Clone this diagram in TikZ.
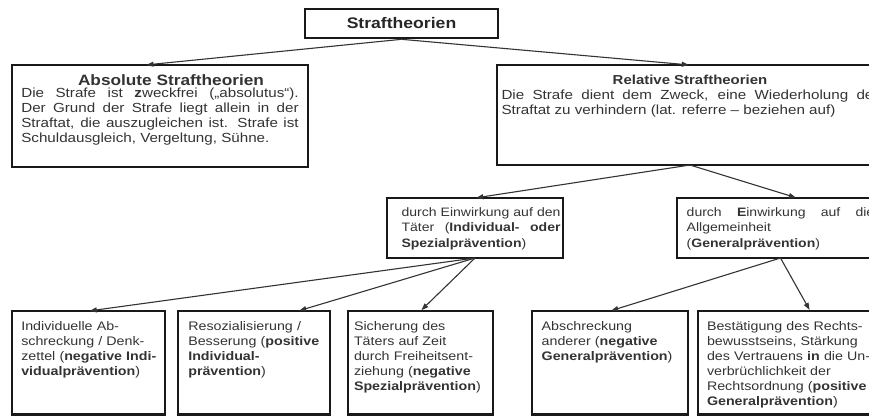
\documentclass[tikz,border=0pt]{standalone}
\usepackage{fontspec}
\setmainfont{Liberation Sans}[FakeStretch=1.15]
\usetikzlibrary{arrows.meta,calc}

\tikzset{
  box/.style={draw=black!90, line width=2.6pt, anchor=north west, outer sep=0pt, inner ysep=0pt, text=black!80},
  upper/.style={box, align=justify, font=\fontsize{13.2}{15}\selectfont},
  middle/.style={box, align=justify, text height=18pt, text depth=42pt, font=\fontsize{12.2}{15.5}\selectfont},
  lower/.style={box, align=left, inner xsep=2pt, text height=19pt, text depth=84.5pt, font=\fontsize{12.4}{15}\selectfont},
  pfeil/.style={draw=black!80, line width=1.1pt, -{Triangle[length=7pt,width=5pt]}, shorten >=1.3pt},
}

\begin{document}
\begin{tikzpicture}[x=1pt,y=-1pt]
        \useasboundingbox (0,0) rectangle (869,416);
        \clip (0,0) rectangle (869,416);

        \node[draw=black!90, line width=2.6pt, minimum width=193pt, minimum height=29pt, inner sep=0pt, text=black!85, font=\fontsize{15.3}{16}\selectfont\bfseries] (root) at (401.5,23.5) {Straftheorien};

        \node[upper, text width=277.4pt, inner xsep=9.3pt, text height=20.7pt, text depth=81.3pt] (absolut) at (12,65)
          {{\centering\bfseries\fontsize{15}{15}\selectfont\hspace*{22pt}Absolute Straftheorien\par}\vspace{-3pt}
           Die Strafe ist \textbf{z}weckfrei („absolutus“).\linebreak
           Der Grund der Strafe liegt allein in der\linebreak
           Straftat, die auszugleichen ist. Strafe ist\linebreak
           Schuldausgleich, Vergeltung, Sühne.};
        \node[upper, text width=377pt, inner xsep=4.5pt, text height=19pt, text depth=81pt] (relativ) at (497,65)
          {{\centering\bfseries\fontsize{13}{15}\selectfont Relative Straftheorien\par}
           Die Strafe dient dem Zweck, eine Wiederholung der\linebreak
           Straftat zu verhindern (lat. referre – beziehen auf)};

        \node[middle, text width=171pt, inner xsep=2.5pt] (spezial) at (387,198)
          {\leftskip=12pt durch Einwirkung auf den\linebreak
           Täter (\textbf{Individual- oder}\linebreak
           \textbf{Spezialprävention})\par};
        \node[middle, text width=187.6pt, inner xsep=9.7pt] (general) at (677,198)
          {durch \textbf{E}inwirkung auf die\linebreak
           Allgemeinheit\\
           (\textbf{Generalprävention})};

        \node[lower, text width=149pt] (indiv) at (12,311)
          {\leftskip=7.3pt Individuelle Ab-\\schreckung / Denk-\\zettel (\textbf{negative Indi-}\\\textbf{vidualprävention})\par};
        \node[lower, text width=148pt] (resoz) at (178,311)
          {\leftskip=8.3pt Resozialisierung /\\Besserung (\textbf{positive}\\\textbf{Individual-}\\\textbf{prävention})\par};
        \node[lower, text width=141pt] (sicher) at (348,311)
          {\leftskip=4pt Sicherung des\\Täters auf Zeit\\durch Freiheitsent-\\ziehung (\textbf{negative}\\\textbf{Spezialprävention})\par};
        \node[lower, text width=152pt] (abschr) at (532,311)
          {\leftskip=7.7pt Abschreckung\\anderer (\textbf{negative}\\\textbf{Generalprävention})\par};
        \node[lower, text width=183pt] (bestaet) at (698,311)
          {\leftskip=7pt Bestätigung des Rechts-\\bewusstseins, Stärkung\\des Vertrauens \textbf{in} die Un-\\verbrüchlichkeit der\\Rechtsordnung (\textbf{positive}\\\textbf{Generalprävention})\par};

        \draw[pfeil] (root.south) -- ($(absolut.north west)!0.45!(absolut.north east)$);
        \draw[pfeil] (root.south) -- (relativ.north);
        \draw[pfeil] (relativ.south) -- (spezial.north);
        \draw[pfeil] (relativ.south) -- ($(general.north west)!0.58!(general.north east)$);
        \draw[pfeil] (spezial.south) -- (indiv.north);
        \draw[pfeil] (spezial.south) -- ($(resoz.north west)!0.79!(resoz.north east)$);
        \draw[pfeil] (spezial.south) -- (sicher.north);
        \draw[pfeil] (general.south) -- (abschr.north);
        \draw[pfeil] (general.south) -- ($(bestaet.north west)!0.6!(bestaet.north east)$);
\end{tikzpicture}
\end{document}
